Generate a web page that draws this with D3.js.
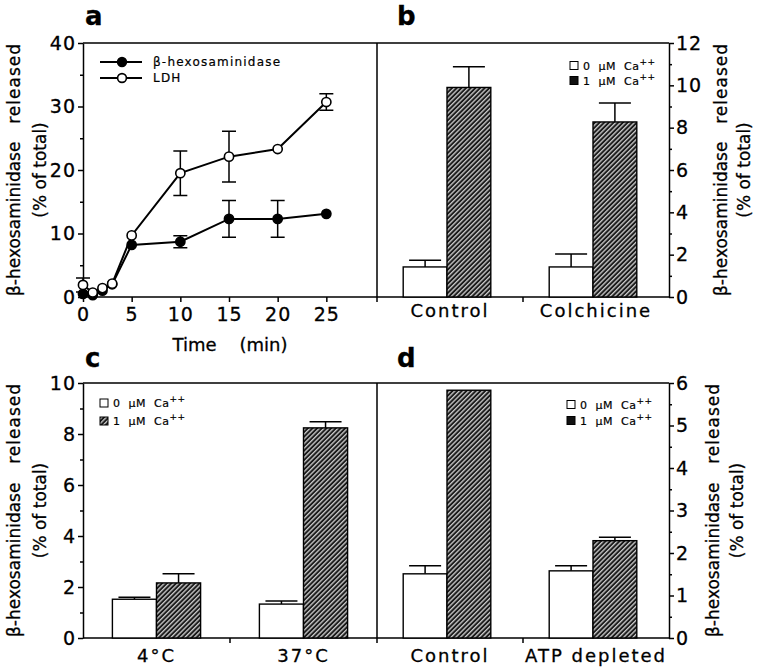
<!DOCTYPE html>
<html><head><meta charset="utf-8">
<script src="https://cdn.jsdelivr.net/npm/d3@7"></script>
<style>body{margin:0;background:#fff} text{font-family:"DejaVu Sans",sans-serif;fill:#000;stroke:#000;stroke-width:0.3px}</style>
</head><body><svg id="c" width="765" height="669"></svg>
<script>
// ---------- data ----------
const timePoints = [0, 1, 2, 3, 5, 10, 15, 20, 25];
const hexValues  = [0.5, 0.3, 1.0, 2.0, 8.2, 8.7, 12.3, 12.3, 13.1];
const hexErr     = [0, 0, 0, 0, 0, 0.95, 2.9, 2.9, 0];
const ldhValues  = [1.9, 0.7, 1.4, 2.1, 9.7, 19.5, 22.1, 23.3, 30.7];
const ldhErr     = [1.1, 0, 0, 0, 0, 3.5, 4.0, 0, 1.3];
const seriesA    = ["β-hexosaminidase", "LDH"];
const timeTicks  = [0, 5, 10, 15, 20, 25];
const aTicks     = [0, 10, 20, 30, 40];
const aMinor     = [5, 15, 25, 35];

const catsB  = ["Control", "Colchicine"];
const b0     = [1.42, 1.42], b0Err = [0.32, 0.61];
const b1     = [9.9, 8.27],  b1Err = [0.98, 0.9];
const bTicks = [0, 2, 4, 6, 8, 10, 12];
const bMinor = [1, 3, 5, 7, 9, 11];

const catsC  = ["4°C", "37°C"];
const c0     = [1.52, 1.33], c0Err = [0.08, 0.12];
const c1     = [2.16, 8.24], c1Err = [0.36, 0.24];
const cTicks = [0, 2, 4, 6, 8, 10];
const cMinor = [1, 3, 5, 7, 9];

const catsD  = ["Control", "ATP depleted"];
const d0     = [1.51, 1.58], d0Err = [0.19, 0.12];
const d1     = [5.83, 2.29], d1Err = [0, 0.08];
const dTicks = [0, 1, 2, 3, 4, 5, 6];
const dMinor = [0.5, 1.5, 2.5, 3.5, 4.5, 5.5];

const caLevels = ["0", "1"];   // µM Ca++
const yTitle1 = ["β-hexosaminidase", "released"];
const yTitle2 = "(% of total)";

// ---------- layout ----------
const svg = d3.select("#c");
const L = 83, M = 377, R = 669, T1 = 43, B1 = 297, T2 = 383, B2 = 638;
const FONT = "DejaVu Sans, sans-serif";
const fmt = d3.format("~g");

const defs = svg.append("defs");
const pat = defs.append("pattern").attr("id", "hatch").attr("patternUnits", "userSpaceOnUse")
  .attr("width", 3.3).attr("height", 3.3).attr("patternTransform", "rotate(45)");
pat.append("rect").attr("width", 3.3).attr("height", 3.3).attr("fill", "#1a1a1a");
pat.append("line").attr("x1", 0.7).attr("x2", 0.7).attr("y1", 0).attr("y2", 3.3)
  .attr("stroke", "#e6e6e6").attr("stroke-width", 1.15);

function styleAxis(g) {
  g.selectAll("line,path").attr("stroke", "#000").attr("stroke-width", 1.5);
  g.selectAll("text").attr("font-size", 19).attr("font-family", FONT).style("letter-spacing", "1px").attr("fill", "#000");
}

function frame(top, bottom) {
  svg.append("path")
    .attr("d", `M${L},${top}H${R}M${L},${bottom}H${R}M${M},${top}V${bottom + 5}`)
    .attr("stroke", "#000").attr("stroke-width", 1.5).attr("fill", "none");
}

function yAxis(scale, ticks, minor, side) {
  const mk = side === "left" ? d3.axisLeft : d3.axisRight;
  const x = side === "left" ? L : R;
  const g = svg.append("g").attr("transform", `translate(${x},0)`)
    .call(mk(scale).tickValues(ticks).tickFormat(fmt).tickSize(5).tickSizeOuter(0).tickPadding(2));
  styleAxis(g);
  const gm = svg.append("g").attr("transform", `translate(${x},0)`)
    .call(mk(scale).tickValues(minor).tickSize(3).tickFormat(""));
  gm.select(".domain").remove();
  styleAxis(gm);
}

function vTitle(xb1, xb2, bottom, top) {
  const center = (bottom + top) / 2;
  const t = svg.append("g").attr("font-size", 17);
  t.append("text").attr("transform", `translate(${xb1},${bottom - 1}) rotate(-90)`)
    .attr("text-anchor", "start").text(yTitle1[0]);
  t.append("text").attr("transform", `translate(${xb1},${top}) rotate(-90)`)
    .attr("text-anchor", "end").style("letter-spacing", "1px").text(yTitle1[1]);
  t.append("text").attr("transform", `translate(${xb2},${center}) rotate(-90)`)
    .attr("text-anchor", "middle").text(yTitle2);
}

function panelLetter(ch, x, y) {
  svg.append("text").attr("x", x).attr("y", y).attr("font-size", 26).attr("font-weight", "bold").text(ch);
}

function caLegend(x, y1, y2, fill2) {
  const rows = [y1, y2];
  const g = svg.append("g");
  caLevels.forEach((lv, i) => {
    g.append("rect").attr("x", x).attr("y", rows[i] - 8).attr("width", 8).attr("height", 8)
      .attr("fill", i === 0 ? "#fff" : fill2).attr("stroke", "#000").attr("stroke-width", 1);
    const t = g.append("text").attr("x", x + 13).attr("y", rows[i]).attr("font-size", 11)
      .style("letter-spacing", "0.5px").style("white-space", "pre").style("stroke-width", "0.2px");
    t.append("tspan").text(`${lv}  μM  Ca`);
    t.append("tspan").attr("font-size", 9).attr("dy", -5).text("++");
  });
}

function barPanel(cats, s0, e0, s1, e1, x0, x1, yScale, bottom, shift, labelY) {
  const xb = d3.scaleBand().domain(cats).range([x0, x1]);
  const bw = xb.bandwidth();
  const xi = d3.scaleBand().domain(caLevels).range([bw * 0.2 + shift, bw * 0.8 + shift]);
  const data = [];
  cats.forEach((c, i) => {
    data.push({ c, s: caLevels[0], v: s0[i], e: e0[i] });
    data.push({ c, s: caLevels[1], v: s1[i], e: e1[i] });
  });
  const g = svg.append("g");
  const cap = 32;
  data.forEach(d => {
    const cx = xb(d.c) + xi(d.s) + xi.bandwidth() / 2;
    if (d.e > 0) {
      g.append("line").attr("x1", cx).attr("x2", cx).attr("y1", yScale(d.v)).attr("y2", yScale(d.v + d.e))
        .attr("stroke", "#000").attr("stroke-width", 1.5);
      g.append("line").attr("x1", cx - cap / 2).attr("x2", cx + cap / 2)
        .attr("y1", yScale(d.v + d.e)).attr("y2", yScale(d.v + d.e)).attr("stroke", "#000").attr("stroke-width", 1.5);
    }
  });
  g.selectAll("rect.bar").data(data).join("rect").attr("class", "bar")
    .attr("x", d => xb(d.c) + xi(d.s)).attr("width", xi.bandwidth())
    .attr("y", d => yScale(d.v)).attr("height", d => bottom - yScale(d.v))
    .attr("fill", d => d.s === caLevels[0] ? "#fff" : "url(#hatch)")
    .attr("stroke", "#000").attr("stroke-width", 1.4);
  g.append("line").attr("x1", xb(cats[1])).attr("x2", xb(cats[1])).attr("y1", bottom).attr("y2", bottom + 5)
    .attr("stroke", "#000").attr("stroke-width", 1.5);
  g.selectAll("text.cat").data(cats).join("text").attr("class", "cat")
    .attr("x", d => xb(d) + bw / 2).attr("y", labelY).attr("text-anchor", "middle")
    .attr("font-size", 18).style("letter-spacing", "2px").text(d => d);
}

// ---------- frames ----------
frame(T1, B1);
frame(T2, B2);

// ---------- panel a ----------
const xa = d3.scaleLinear().domain([0, 30]).range([L, 375]);
const ya = d3.scaleLinear().domain([0, 40]).range([B1, T1]);
yAxis(ya, aTicks, aMinor, "left");
const gxa = svg.append("g").attr("transform", `translate(0,${B1})`)
  .call(d3.axisBottom(xa).tickValues(timeTicks).tickSize(5).tickSizeOuter(0).tickPadding(6));
gxa.select(".domain").remove();
styleAxis(gxa);
svg.append("text").attr("x", 230).attr("y", 351).attr("text-anchor", "middle").attr("font-size", 18)
  .style("white-space", "pre").text("Time    (min)");

const line = d3.line().x(d => xa(d.t)).y(d => ya(d.v));
const hexData = timePoints.map((t, i) => ({ t, v: hexValues[i], e: hexErr[i] }));
const ldhData = timePoints.map((t, i) => ({ t, v: ldhValues[i], e: ldhErr[i] }));
function drawSeries(data, filled) {
  const g = svg.append("g");
  g.append("path").datum(data).attr("d", line).attr("fill", "none").attr("stroke", "#000").attr("stroke-width", 2);
  data.filter(d => d.e > 0).forEach(d => {
    const cx = xa(d.t), lo = Math.max(0, d.v - d.e), hi = d.v + d.e;
    g.append("path").attr("d", `M${cx},${ya(lo)}V${ya(hi)}M${cx - 7},${ya(hi)}H${cx + 7}` +
      (d.v - d.e > 0 ? `M${cx - 7},${ya(lo)}H${cx + 7}` : ""))
      .attr("stroke", "#000").attr("stroke-width", 1.5).attr("fill", "none");
  });
  g.selectAll("circle").data(data).join("circle").attr("cx", d => xa(d.t)).attr("cy", d => ya(d.v))
    .attr("r", 4.6).attr("fill", filled ? "#000" : "#fff").attr("stroke", "#000").attr("stroke-width", 1.6);
}
drawSeries(hexData, true);
drawSeries(ldhData, false);

const legA = svg.append("g");
[62, 78].forEach((yy, i) => {
  legA.append("line").attr("x1", 100).attr("x2", 142).attr("y1", yy).attr("y2", yy).attr("stroke", "#000").attr("stroke-width", 2);
  legA.append("circle").attr("cx", 122).attr("cy", yy).attr("r", 4.4)
    .attr("fill", i === 0 ? "#000" : "#fff").attr("stroke", "#000").attr("stroke-width", 1.6);
  legA.append("text").attr("x", 153).attr("y", yy + 4).attr("font-size", 12)
    .style("letter-spacing", "1.2px").style("stroke-width", "0.2px").text(seriesA[i]);
});
vTitle(20, 46, B1, T1);
panelLetter("a", 85, 25);

// ---------- panel b ----------
const yb = d3.scaleLinear().domain([0, 12]).range([B1, T1]);
barPanel(catsB, b0, b0Err, b1, b1Err, M, R, yb, B1, -3, 317);
yAxis(yb, bTicks, bMinor, "right");
caLegend(570, 69.5, 84.5, "#111");
vTitle(727, 750, B1, T1);
panelLetter("b", 397, 25);

// ---------- panel c ----------
const yc = d3.scaleLinear().domain([0, 10]).range([B2, T2]);
barPanel(catsC, c0, c0Err, c1, c1Err, L, M, yc, B2, 0, 662);
yAxis(yc, cTicks, cMinor, "left");
caLegend(100, 407, 425, "url(#hatch)");
vTitle(20, 46, B2, T2);
panelLetter("c", 85, 367);

// ---------- panel d ----------
const yd = d3.scaleLinear().domain([0, 6]).range([B2, T2]);
barPanel(catsD, d0, d0Err, d1, d1Err, M, R, yd, B2, -3, 662);
yAxis(yd, dTicks, dMinor, "right");
caLegend(567, 408.5, 424.5, "#111");
vTitle(719, 743, B2, T2);
panelLetter("d", 397, 367);
</script></body></html>
